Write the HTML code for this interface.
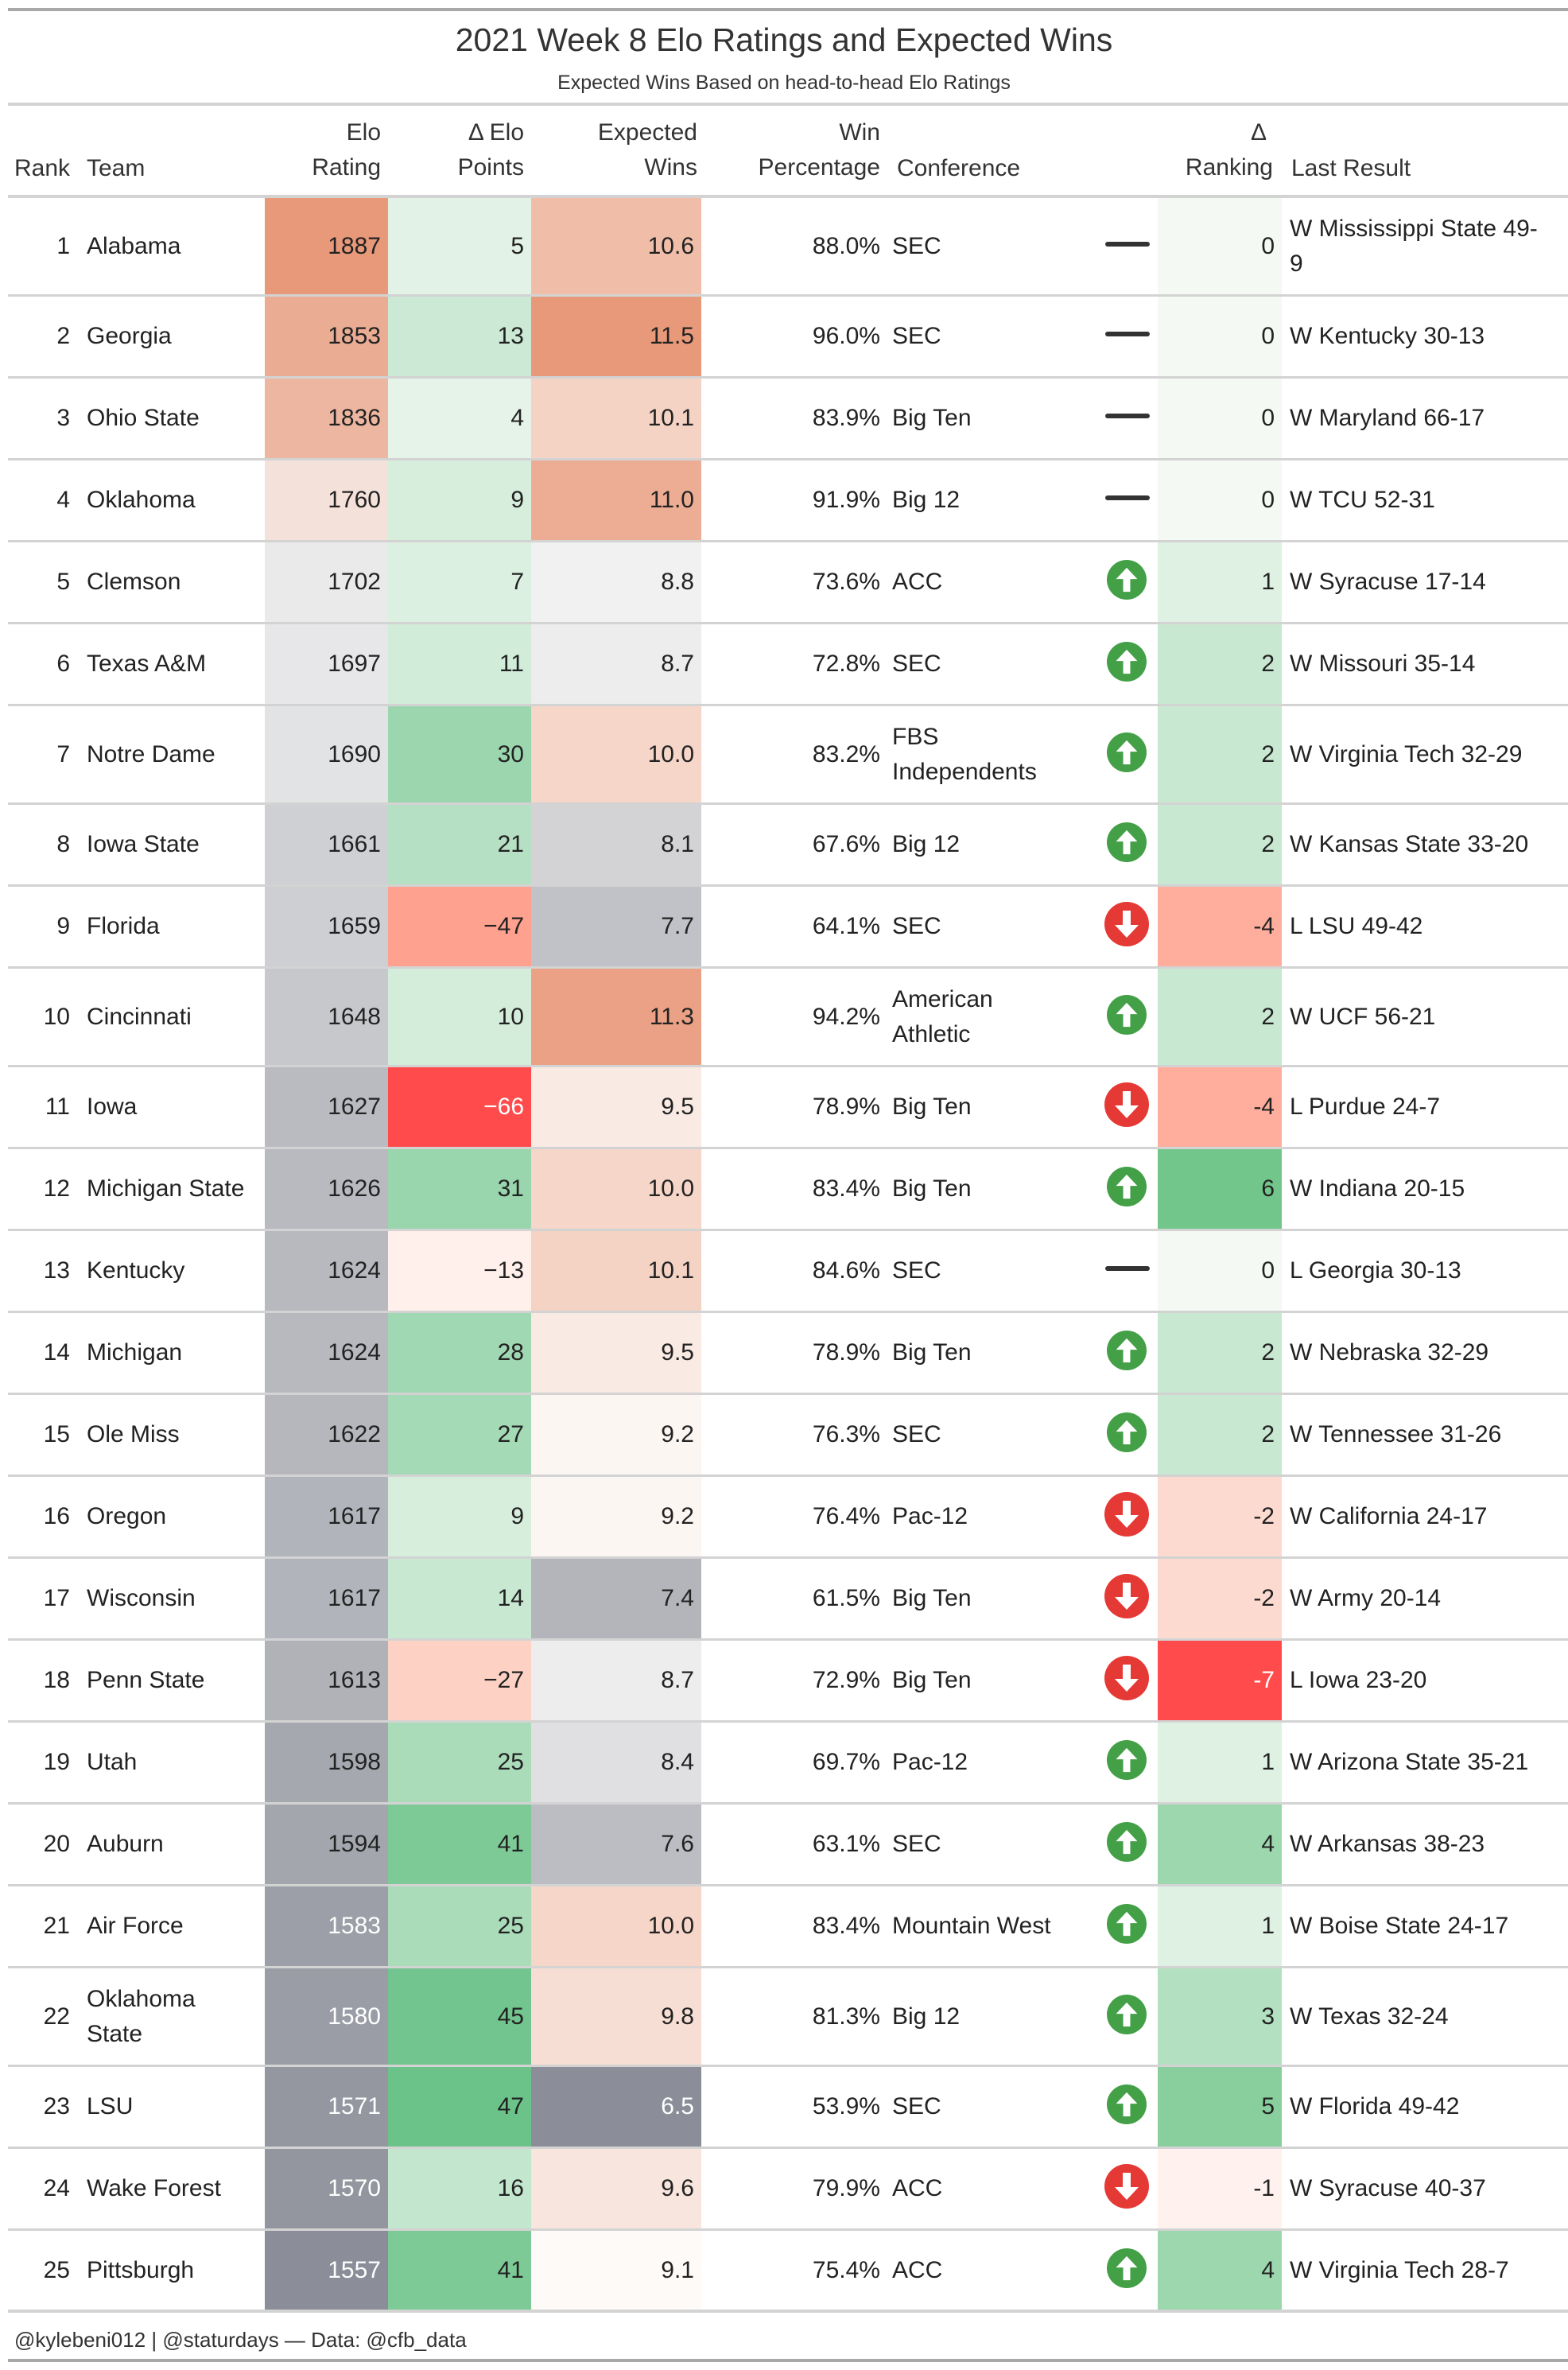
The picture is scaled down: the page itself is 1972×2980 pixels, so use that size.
<!DOCTYPE html>
<html><head><meta charset="utf-8">
<style>
html,body{margin:0;padding:0;background:#fff;}
body{width:1972px;height:2980px;position:relative;overflow:hidden;font-family:"Liberation Sans",sans-serif;color:#222;}
.ab{position:absolute;}
.hl{position:absolute;left:10px;width:1962px;}
.cell{position:absolute;display:flex;align-items:center;font-size:30px;line-height:44px;}
.r{justify-content:flex-end;text-align:right;}
.hd{position:absolute;font-size:30px;line-height:44px;color:#333;}
</style></head><body>
<div class="hl" style="top:10px;height:4px;background:#a8a8a8"></div>
<div class="ab" style="left:0;width:1972px;top:22px;text-align:center;font-size:41px;line-height:56px;color:#333">2021 Week 8 Elo Ratings and Expected Wins</div>
<div class="ab" style="left:0;width:1972px;top:86px;text-align:center;font-size:25px;line-height:36px;color:#333">Expected Wins Based on head-to-head Elo Ratings</div>
<div class="hl" style="top:129px;height:4px;background:#d3d3d3"></div>

<div class="hd" style="left:18px;top:190px">Rank</div>
<div class="hd" style="left:109px;top:190px">Team</div>
<div class="hd" style="left:330px;width:149px;text-align:right;top:145px">Elo<br>Rating</div>
<div class="hd" style="left:500px;width:159px;text-align:right;top:145px">Δ Elo<br>Points</div>
<div class="hd" style="left:680px;width:197px;text-align:right;top:145px">Expected<br>Wins</div>
<div class="hd" style="left:900px;width:207px;text-align:right;top:145px">Win<br>Percentage</div>
<div class="hd" style="left:1128px;top:190px">Conference</div>
<div class="hd" style="left:1460px;width:141px;text-align:right;top:145px"><span style="padding-right:8px">Δ</span><br>Ranking</div>
<div class="hd" style="left:1624px;top:190px">Last Result</div>
<div class="hl" style="top:245px;height:4px;background:#d3d3d3"></div>

<div id="rows"></div>

<div class="hl" style="top:2904px;height:4px;background:#d3d3d3"></div>
<div class="ab" style="left:18px;top:2925px;font-size:26px;line-height:34px;color:#333">@kylebeni012 | @staturdays — Data: @cfb_data</div>
<div class="hl" style="top:2966px;height:4px;background:#a8a8a8"></div>

<script>
const ranks=[1,2,3,4,5,6,7,8,9,10,11,12,13,14,15,16,17,18,19,20,21,22,23,24,25];
const teams=["Alabama","Georgia","Ohio State","Oklahoma","Clemson","Texas A&M","Notre Dame","Iowa State","Florida","Cincinnati","Iowa","Michigan State","Kentucky","Michigan","Ole Miss","Oregon","Wisconsin","Penn State","Utah","Auburn","Air Force","Oklahoma<br>State","LSU","Wake Forest","Pittsburgh"];
const elo=[1887,1853,1836,1760,1702,1697,1690,1661,1659,1648,1627,1626,1624,1624,1622,1617,1617,1613,1598,1594,1583,1580,1571,1570,1557];
const deltaElo=[5,13,4,9,7,11,30,21,-47,10,-66,31,-13,28,27,9,14,-27,25,41,25,45,47,16,41];
const expWins=[10.6,11.5,10.1,11.0,8.8,8.7,10.0,8.1,7.7,11.3,9.5,10.0,10.1,9.5,9.2,9.2,7.4,8.7,8.4,7.6,10.0,9.8,6.5,9.6,9.1];
const winPct=[88.0,96.0,83.9,91.9,73.6,72.8,83.2,67.6,64.1,94.2,78.9,83.4,84.6,78.9,76.3,76.4,61.5,72.9,69.7,63.1,83.4,81.3,53.9,79.9,75.4];
const confs=["SEC","SEC","Big Ten","Big 12","ACC","SEC","FBS<br>Independents","Big 12","SEC","American<br>Athletic","Big Ten","Big Ten","SEC","Big Ten","SEC","Pac-12","Big Ten","Big Ten","Pac-12","SEC","Mountain West","Big 12","SEC","ACC","ACC"];
const deltaRank=[0,0,0,0,1,2,2,2,-4,2,-4,6,0,2,2,-2,-2,-7,1,4,1,3,5,-1,4];
const results=["W Mississippi State 49-<br>9","W Kentucky 30-13","W Maryland 66-17","W TCU 52-31","W Syracuse 17-14","W Missouri 35-14","W Virginia Tech 32-29","W Kansas State 33-20","L LSU 49-42","W UCF 56-21","L Purdue 24-7","W Indiana 20-15","L Georgia 30-13","W Nebraska 32-29","W Tennessee 31-26","W California 24-17","W Army 20-14","L Iowa 23-20","W Arizona State 35-21","W Arkansas 38-23","W Boise State 24-17","W Texas 32-24","W Florida 49-42","W Syracuse 40-37","W Virginia Tech 28-7"];

function hex(h){return [parseInt(h.slice(1,3),16),parseInt(h.slice(3,5),16),parseInt(h.slice(5,7),16)];}
function mix(a,b,t){t=Math.max(0,Math.min(1,t));const A=hex(a),B=hex(b);return A.map((v,i)=>Math.round(v+(B[i]-v)*t));}
function div3(v,lo,mid,hi,cLo,cMid,cHi){return v<mid?mix(cMid,cLo,(mid-v)/(mid-lo)):mix(cMid,cHi,(v-mid)/(hi-mid));}
const redStops=[[0,'#fffbfa'],[0.18,'#fff3ef'],[0.3,'#fddcd3'],[0.42,'#fdd0c2'],[0.58,'#ffb09f'],[0.72,'#fea08d'],[1,'#ff4b4b']];
function redScale(t){t=Math.max(0,Math.min(1,t));for(let k=1;k<redStops.length;k++){if(t<=redStops[k][0]){const a=redStops[k-1],b=redStops[k];return mix(a[1],b[1],(t-a[0])/(b[0]-a[0]));}}return hex('#ff4b4b');}
function css(c){return `rgb(${c[0]},${c[1]},${c[2]})`;}
function txt(c){const L=0.299*c[0]+0.587*c[1]+0.114*c[2];return L<160?'#fff':'#222';}

const rowsEl=document.getElementById('rows');
let y=249;
for(let i=0;i<ranks.length;i++){
  const tall=(teams[i].includes('<br>')||confs[i].includes('<br>')||results[i].includes('<br>'));
  const h=tall?124:103;
  const top=y, hh=h-3;
  const mk=(name,l,w,html,cls,bg,col)=>{
    const d=document.createElement('div');
    d.className='cell'+(cls?' '+cls:'');
    d.style.cssText=`left:${l}px;width:${w}px;top:${top}px;height:${hh}px;box-sizing:border-box;`+(bg?`background:${bg};padding-right:9px;`:'')+(col?`color:${col};`:'');
    d.innerHTML=html;
    
    
    rowsEl.appendChild(d);return d;
  };
  mk('rank-cell',10,78,ranks[i],'r');
  mk('team-cell',109,220,teams[i]);
  const ce=div3(elo[i],1557,1722,1887,'#8b8e98','#f7f7f7','#e8997a');
  mk('elo-cell',333,155,elo[i],'r',css(ce),txt(ce));
  const cd=deltaElo[i]<0?redScale(-deltaElo[i]/66):mix('#f0f8f1','#6cc38a',deltaElo[i]/47);
  mk('delta-elo-cell',488,180,deltaElo[i]<0?'−'+Math.abs(deltaElo[i]):deltaElo[i],'r',css(cd),txt(cd));
  const cw=div3(expWins[i],6.5,9.05,11.5,'#8b8e98','#fdfcfb','#e8997a');
  mk('expected-wins-cell',668,214,expWins[i].toFixed(1),'r',css(cw),txt(cw));
  mk('win-pct-cell',900,207,winPct[i].toFixed(1)+'%','r');
  mk('conference-cell',1122,260,confs[i]);
  const ic=document.createElement('div');
  
  
  const cy=top+hh/2-3;
  if(deltaRank[i]===0){
    ic.style.cssText=`position:absolute;left:1390px;top:${cy-3}px;width:56px;height:6px;border-radius:3px;background:#333;`;
  }else{
    const up=deltaRank[i]>0;
    const d=up?50:56;
    ic.style.cssText=`position:absolute;left:${1417-d/2}px;top:${cy-d/2}px;width:${d}px;height:${d}px;border-radius:50%;background:${up?'#43a047':'#e53935'};`;
    ic.innerHTML=up?`<svg width="${d}" height="${d}" viewBox="0 0 56 56"><polygon points="28,11 43,27 33,27 33,45 23,45 23,27 13,27" fill="#fff"/></svg>`:`<svg width="${d}" height="${d}" viewBox="0 0 56 56"><polygon points="28,45 43,29 33,29 33,11 23,11 23,29 13,29" fill="#fff"/></svg>`;
  }
  rowsEl.appendChild(ic);
  const cr=deltaRank[i]<0?redScale((-deltaRank[i]+0.4)/7.4):mix('#f4f9f4','#72c68b',deltaRank[i]/6);
  mk('delta-ranking-cell',1456,156,deltaRank[i],'r',css(cr),txt(cr));
  mk('last-result-cell',1622,345,results[i]);
  const ln=document.createElement('div');
  ln.className='hl';
  ln.style.cssText=`top:${top+hh}px;height:3px;background:#d3d3d3;`;
  
  
  rowsEl.appendChild(ln);
  y+=h;
}
</script>
</body></html>
